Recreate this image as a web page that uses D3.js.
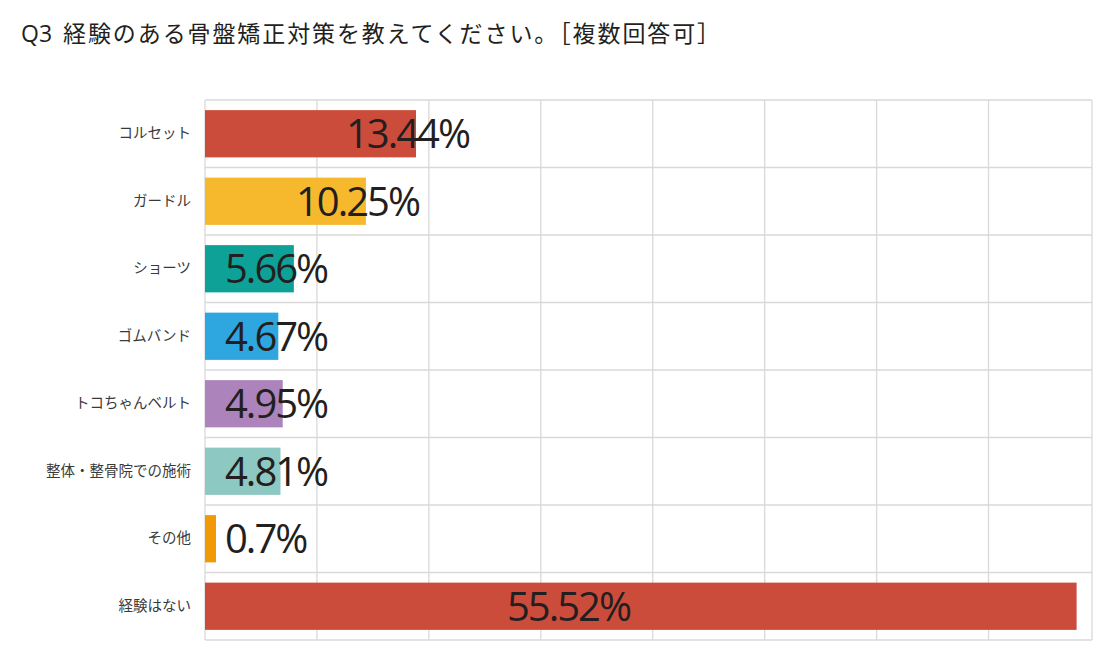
<!DOCTYPE html>
<html>
<head>
<meta charset="utf-8">
<script src="https://cdn.jsdelivr.net/npm/d3@7"></script>
<style>
	body { margin: 0; background: #fff; }
	text { font-family: "Noto Sans CJK JP", "Noto Sans", sans-serif; }
</style>
</head>
<body>
<div id="chart" style="width:1100px;height:650px;"></div>
<script>
// Chart data
var titleQ = "Q3";
var titleText = "経験のある骨盤矯正対策を教えてください。［複数回答可］";
var categories = ["コルセット", "ガードル", "ショーツ", "ゴムバンド", "トコちゃんベルト", "整体・整骨院での施術", "その他", "経験はない"];
var values = [13.44, 10.25, 5.66, 4.67, 4.95, 4.81, 0.7, 55.52];
var valueLabels = ["13.44%", "10.25%", "5.66%", "4.67%", "4.95%", "4.81%", "0.7%", "55.52%"];
var colors = ["#cc4c3c", "#f6b82d", "#0ea197", "#2ea7e0", "#ac84bb", "#8ec8c2", "#f29a05", "#cc4c3c"];

var margin = {top: 100, right: 8, bottom: 10, left: 205};
var width = 1100, height = 650;
var chartWidth = width - margin.left - margin.right;
var chartHeight = height - margin.top - margin.bottom;

var svg = d3.select("#chart")
	.append("svg")
	.attr("width", width)
	.attr("height", height);

// Title
var title = svg.append("text")
	.attr("x", 21)
	.attr("y", 42)
	.attr("font-size", 23)
	.attr("fill", "#231f20");
title.append("tspan")
	.attr("font-weight", 500)
	.style("font-family", "'Open Sans', sans-serif")
	.attr("font-size", 23)
	.text(titleQ);
title.append("tspan")
	.attr("dx", 11)
	.attr("letter-spacing", 1.9)
	.text(titleText);

var g = svg.append("g")
	.attr("transform", `translate(${margin.left}, ${margin.top})`);

// Scales
var x = d3.scaleLinear()
	.domain([0, 56.5])
	.range([0, chartWidth]);

var y = d3.scaleBand()
	.domain(categories)
	.range([0, chartHeight])
	.paddingInner(0.3)
	.paddingOuter(0.15);

// Grid: 8 equal columns, last one cut off by the frame
var gridStep = 7.13;
var gridTicks = d3.range(0, 56.5, gridStep);

g.selectAll(".vgrid")
	.data(gridTicks)
	.enter()
	.append("line")
	.attr("class", "vgrid")
	.attr("x1", d => x(d))
	.attr("x2", d => x(d))
	.attr("y1", 0)
	.attr("y2", chartHeight)
	.attr("stroke", "#d9d9d9")
	.attr("stroke-width", 1.3);

var rowStep = chartHeight / categories.length;
g.selectAll(".hgrid")
	.data(d3.range(categories.length + 1))
	.enter()
	.append("line")
	.attr("class", "hgrid")
	.attr("x1", 0)
	.attr("x2", chartWidth)
	.attr("y1", d => d * rowStep)
	.attr("y2", d => d * rowStep)
	.attr("stroke", "#d9d9d9")
	.attr("stroke-width", 1.3);

g.append("line")
	.attr("x1", chartWidth).attr("x2", chartWidth)
	.attr("y1", 0).attr("y2", chartHeight)
	.attr("stroke", "#d9d9d9")
	.attr("stroke-width", 1.3);

// Bars
var data = categories.map((c, i) => ({cat: c, value: values[i], label: valueLabels[i], color: colors[i]}));

g.selectAll(".bar")
	.data(data)
	.enter()
	.append("rect")
	.attr("class", "bar")
	.attr("x", 0)
	.attr("y", d => y(d.cat))
	.attr("width", d => x(d.value))
	.attr("height", y.bandwidth())
	.attr("fill", d => d.color);

// Value labels: near the bar end, clamped inside the plot
g.selectAll(".valueLabel")
	.data(data)
	.enter()
	.append("text")
	.attr("class", "valueLabel")
	.attr("x", d => Math.min(Math.max(x(d.value) - 70, 20), 302))
	.attr("y", d => y(d.cat) + y.bandwidth() / 2)
	.attr("dy", "0.36em")
	.style("font-family", "'Open Sans', 'Noto Sans', sans-serif")
	.attr("font-size", 40)
	.attr("letter-spacing", -2)
	.attr("fill", "#231f20")
	.text(d => d.label);

// Category labels
var yAxis = d3.axisLeft(y).tickSize(0).tickPadding(14);
var yAxisG = g.append("g").call(yAxis);
yAxisG.select(".domain").remove();
yAxisG.selectAll("text")
	.attr("font-size", 14.5)
	.attr("fill", "#3a3a3a")
	.style("font-family", "'Noto Sans CJK JP', sans-serif");
</script>
</body>
</html>
